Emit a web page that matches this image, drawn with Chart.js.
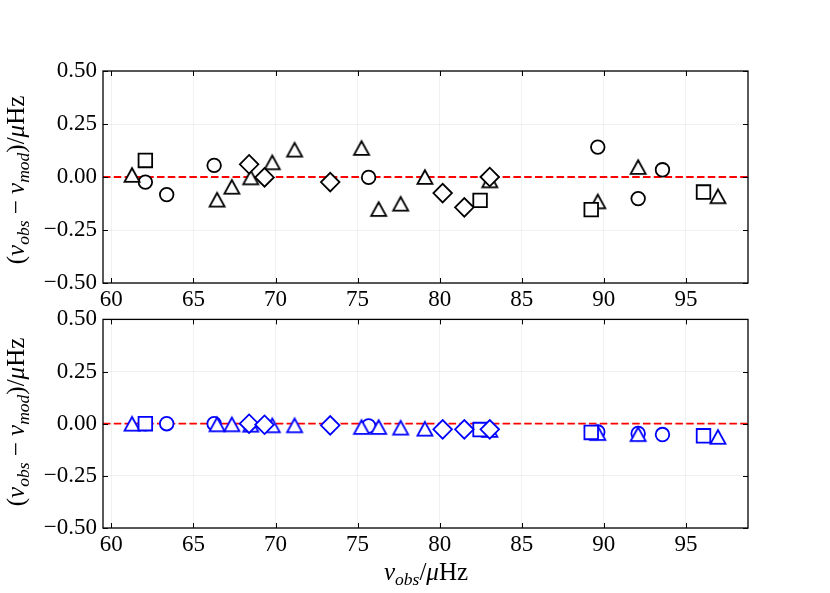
<!DOCTYPE html>
<html>
<head>
<meta charset="utf-8">
<script src="https://cdn.jsdelivr.net/npm/chart.js@4.4.1/dist/chart.umd.min.js"></script>
<style>
  body { margin: 0; background: #fff; }
  #wrap { position: relative; width: 830px; height: 593px; overflow: hidden; }
  canvas { position: absolute; left: 0; }
  .lab { position: absolute; font-family: "Liberation Serif", serif; font-size: 25px; white-space: nowrap; color: #000; line-height: 1; }
  .lab sub { font-size: 0.7em; vertical-align: -0.3em; line-height: 0; }
  .ylab { transform: translate(-50%, -50%) rotate(-90deg); }
  .xlab { transform: translate(-50%, -50%); }
</style>
</head>
<body>
<div id="wrap">
  <canvas id="topPanel" width="830" height="308" style="top:0"></canvas>
  <canvas id="bottomPanel" width="830" height="285" style="top:308px"></canvas>
  <div class="lab ylab" style="left:15px; top:180px">(<i>ν</i><sub><i>obs</i></sub> − <i>ν</i><sub><i>mod</i></sub>)/<i>μ</i>Hz</div>
  <div class="lab ylab" style="left:15px; top:422px">(<i>ν</i><sub><i>obs</i></sub> − <i>ν</i><sub><i>mod</i></sub>)/<i>μ</i>Hz</div>
  <div class="lab xlab" style="left:426px; top:571px"><i>ν</i><sub><i>obs</i></sub>/<i>μ</i>Hz</div>
</div>
<script>
// observed frequencies (muHz) per marker type
const triFreq = [61.26, 66.44, 67.34, 68.49, 69.80, 71.16, 75.24, 76.28, 77.62, 79.10, 83.05, 89.63, 92.09, 96.95];
const sqFreq = [62.07, 82.46, 89.23, 96.07];
const circFreq = [62.07, 63.37, 66.26, 75.67, 89.63, 92.09, 93.57];
const diaFreq = [68.39, 69.33, 73.33, 80.18, 81.50, 83.05];

// residuals, top panel
const triTop = [0.010, -0.107, -0.046, -0.002, 0.069, 0.129, 0.137, -0.151, -0.126, 0.000, -0.016, -0.115, 0.047, -0.091];
const sqTop = [0.078, -0.110, -0.154, -0.071];
const circTop = [-0.024, -0.083, 0.055, -0.002, 0.141, -0.102, 0.034];
const diaTop = [0.060, -0.002, -0.024, -0.076, -0.143, 0.000];

// residuals, bottom panel
const triBot = [0.000, -0.003, -0.003, -0.005, -0.008, -0.008, -0.016, -0.016, -0.019, -0.024, -0.030, -0.045, -0.050, -0.063];
const sqBot = [0.000, -0.028, -0.042, -0.058];
const circBot = [0.000, 0.000, 0.000, -0.011, -0.040, -0.047, -0.052];
const diaBot = [0.000, -0.005, -0.008, -0.027, -0.027, -0.027];

const xMin = 59.49, xMax = 98.78;
const yMin = -0.5, yMax = 0.5;

const tickFont = { family: 'Liberation Serif', size: 23 };
const markerLine = 1.8;

function triangleImage(color) {
  const c = document.createElement('canvas');
  c.width = 24; c.height = 24;
  const g = c.getContext('2d');
  g.beginPath();
  g.moveTo(12, 5.2);
  g.lineTo(19.5, 18.8);
  g.lineTo(4.5, 18.8);
  g.closePath();
  g.fillStyle = '#fff';
  g.fill();
  g.lineWidth = markerLine;
  g.lineJoin = 'miter';
  g.strokeStyle = color;
  g.stroke();
  return c;
}

function points(xs, ys) {
  return xs.map((x, i) => ({x: x, y: ys[i]}));
}

function markerSet(xs, ys, style, radius, color, order) {
  return {
    data: points(xs, ys),
    pointStyle: style,
    pointRadius: radius,
    pointHoverRadius: radius,
    pointBackgroundColor: '#fff',
    pointBorderColor: color,
    pointBorderWidth: markerLine,
    order: order
  };
}

// zero line under markers, frame + inward ticks on top
const framePlugin = {
  id: 'frame',
  beforeDatasetsDraw(chart) {
    const ctx = chart.ctx, a = chart.chartArea;
    const y0 = chart.scales.y.getPixelForValue(0);
    ctx.save();
    ctx.strokeStyle = '#ff0000';
    ctx.lineWidth = 1.8;
    ctx.setLineDash([7.5, 3.3]);
    ctx.beginPath();
    ctx.moveTo(a.left, y0);
    ctx.lineTo(a.right, y0);
    ctx.stroke();
    ctx.restore();
  },
  afterDatasetsDraw(chart) {
    const ctx = chart.ctx, a = chart.chartArea;
    const sx = chart.scales.x, sy = chart.scales.y;
    const len = 5;
    ctx.save();
    ctx.strokeStyle = '#000';
    ctx.lineWidth = 1;
    ctx.beginPath();
    sx.ticks.forEach(t => {
      const px = Math.round(sx.getPixelForValue(t.value)) + 0.5;
      ctx.moveTo(px, a.bottom); ctx.lineTo(px, a.bottom - len);
      ctx.moveTo(px, a.top); ctx.lineTo(px, a.top + len);
    });
    sy.ticks.forEach(t => {
      const py = Math.round(sy.getPixelForValue(t.value)) + 0.5;
      ctx.moveTo(a.left, py); ctx.lineTo(a.left + len, py);
      ctx.moveTo(a.right, py); ctx.lineTo(a.right - len, py);
    });
    ctx.stroke();
    ctx.lineWidth = 1.3;
    ctx.strokeRect(a.left, a.top, a.right - a.left, a.bottom - a.top);
    ctx.restore();
  }
};

function fmtY(v) {
  return v.toFixed(2).replace('-', '\u2212');
}

function makePanel(id, color, tri, sq, circ, dia, padTop, xAxisHeight) {
  return new Chart(document.getElementById(id), {
    type: 'scatter',
    data: {
      datasets: [
        markerSet(diaFreq, dia, 'rectRot', 9.3, color, 0),
        markerSet(sqFreq, sq, 'rect', 9.6, color, 1),
        markerSet(triFreq, tri, triangleImage(color), 7, color, 2),
        markerSet(circFreq, circ, 'circle', 6.8, color, 3)
      ]
    },
    options: {
      responsive: false,
      animation: false,
      events: [],
      layout: { padding: { top: padTop, right: 82, left: 0, bottom: 0 } },
      plugins: { legend: { display: false }, tooltip: { enabled: false } },
      scales: {
        x: {
          type: 'linear',
          min: xMin,
          max: xMax,
          afterFit: s => { s.height = xAxisHeight; },
          border: { display: false },
          grid: { color: 'rgba(0,0,0,0.07)', lineWidth: 0.8, drawTicks: false },
          ticks: { stepSize: 5, includeBounds: false, padding: 3, color: '#000', font: tickFont, maxRotation: 0 }
        },
        y: {
          min: yMin,
          max: yMax,
          afterFit: s => { s.width = 103; s.paddingTop = 0; s.paddingBottom = 0; },
          border: { display: false },
          grid: { color: 'rgba(0,0,0,0.07)', lineWidth: 0.8, drawTicks: false },
          ticks: { stepSize: 0.25, padding: 6, color: '#000', font: tickFont, callback: fmtY }
        }
      }
    },
    plugins: [framePlugin]
  });
}

makePanel('topPanel', '#000000', triTop, sqTop, circTop, diaTop, 71, 25);
makePanel('bottomPanel', '#0000ff', triBot, sqBot, circBot, diaBot, 7, 65);
</script>
</body>
</html>
